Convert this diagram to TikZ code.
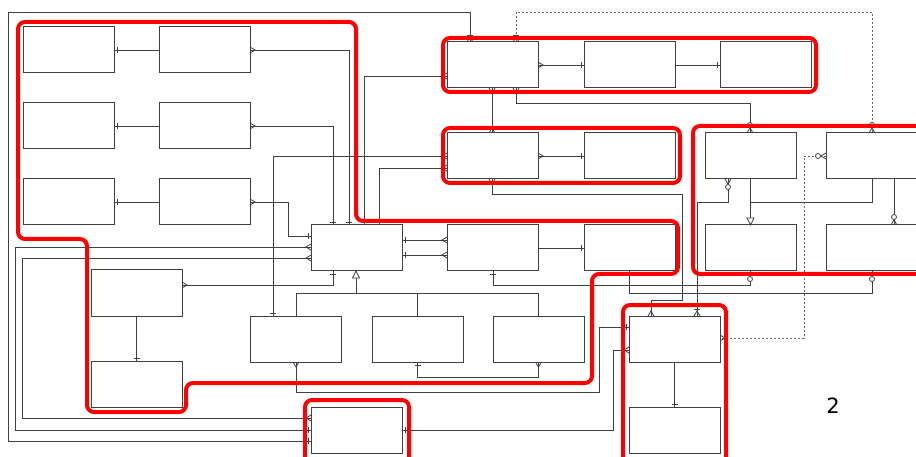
\documentclass[tikz,border=0pt]{standalone}
\usepackage{fontspec}
\setsansfont{DejaVu Sans}
\usetikzlibrary{calc}
\begin{document}
\begin{tikzpicture}[x=1pt,y=-1pt,
  box/.style={draw=black!75,line width=1pt,rectangle,anchor=north west,minimum width=91pt,minimum height=46pt,inner sep=0pt,outer sep=0pt},
  cn/.style={draw=black!75,line width=0.9pt},
  dsh/.style={draw=black!60,line width=0.9pt,dash pattern=on 2pt off 2pt},
  mk/.style={draw=black!75,line width=0.8pt},
  grp/.style={draw=red,line width=4pt,rounded corners=7pt},
  pics/one/.style={code={\draw[mk] (3,-3) -- (3,3);}},
  pics/many/.style={code={\draw[mk] (0,-3) -- (5,0) -- (0,3);}},
  pics/onemany/.style={code={\draw[mk] (0,-3) -- (5,0) -- (0,3); \draw[mk] (7,-3) -- (7,3);}},
  pics/zeromany/.style={code={\draw[mk] (0,-3) -- (5,0) -- (0,3); \draw[mk,fill=white] (8,0) circle (2.5);}},
  pics/zeroone/.style={code={\draw[mk] (2.5,-3) -- (2.5,3); \draw[mk,fill=white] (8,0) circle (2.5);}},
  pics/tri/.style={code={\draw[mk,fill=white] (0,0) -- (7,-3.5) -- (7,3.5) -- cycle;}}
]
\useasboundingbox (0,0) rectangle (916,457);
\fill[white] (0,0) rectangle (916,457);
\clip (0,0) rectangle (916,457);

% boxes
\node[box] (A1) at (23,27) {};
\node[box] (A2) at (23,103) {};
\node[box] (A3) at (23,179) {};
\node[box] (B1) at (159,27) {};
\node[box] (B2) at (159,103) {};
\node[box] (B3) at (159,179) {};
\node[box] (C) at (91,270) {};
\node[box] (D) at (91,361) {};
\node[box] (E) at (311,225) {};
\node[box] (F) at (447,225) {};
\node[box] (G) at (584,225) {};
\node[box] (H1) at (250,316) {};
\node[box] (H2) at (372,316) {};
\node[box] (H3) at (493,316) {};
\node[box] (I) at (311,407) {};
\node[box] (T1) at (447,42) {};
\node[box] (T2) at (584,42) {};
\node[box] (T3) at (720,42) {};
\node[box] (S1) at (447,133) {};
\node[box] (S2) at (584,133) {};
\node[box] (R1) at (705,133) {};
\node[box] (R2) at (826,133) {};
\node[box] (R3) at (705,225) {};
\node[box] (R4) at (826,225) {};
\node[box] (Q1) at (629,316) {};
\node[box] (Q2) at (629,407) {};

% connectors
\draw[cn] (A1.east) -- (B1.west);
\draw[cn] (A2.east) -- (B2.west);
\draw[cn] (A3.east) -- (B3.west);
\draw[cn] (B1.east) -| ($(E.north west)+(38,0)$);
\draw[cn] (B2.east) -| ($(E.north west)+(22,0)$);
\draw[cn] (B3.east) -- (288,202) |- ($(E.north west)+(0,11)$);
\draw[cn] ($(T1.north west)+(23,0)$) -- (470,12) -- (8,12) |- ($(I.north west)+(0,34)$);
\draw[cn] ($(E.north west)+(0,22)$) -- (15,247) |- ($(I.north west)+(0,23)$);
\draw[cn] ($(E.north west)+(0,33)$) -- (22,258) |- ($(I.north west)+(0,11)$);
\draw[cn] ($(C.north west)+(91,15)$) -| ($(E.south west)+(22,0)$);
\draw[cn] (C.south) -- (D.north);
\draw[cn] ($(S1.north west)+(0,23)$) -| ($(H1.north west)+(23,0)$);
\draw[cn] ($(E.north west)+(53,0)$) |- ($(T1.north west)+(0,34)$);
\draw[cn] ($(E.north west)+(68,0)$) |- ($(S1.north west)+(0,35)$);
\draw[cn] ($(T1.north west)+(45,46)$) -- ($(S1.north west)+(45,0)$);
\draw[cn] ($(T1.north west)+(69,46)$) -- (516,103) -| ($(R1.north west)+(45,0)$);
\draw[cn] (T1.east) -- (T2.west);
\draw[cn] (T2.east) -- (T3.west);
\draw[dsh] ($(T1.north west)+(69,0)$) -- (516,12) -| ($(R2.north west)+(46,0)$);
\draw[cn] (S1.east) -- (S2.west);
\draw[cn] ($(S1.north west)+(45,46)$) -- (492,194) -- (682,194) -- (682,300) -| ($(Q1.north west)+(22,0)$);
\draw[cn] ($(R1.north west)+(23,46)$) -- (728,202) -| ($(Q1.north west)+(68,0)$);
\draw[cn] (R1.south) -- (R3.north);
\draw[cn] ($(R2.north west)+(46,46)$) |- ($(R1.south)+(0,23)$);
\draw[cn] ($(R2.north west)+(68,46)$) -- ($(R4.north west)+(68,0)$);
\draw[dsh] ($(R2.north west)+(0,23)$) -- (804,156) |- ($(Q1.north west)+(91,22)$);
\draw[cn] ($(F.north west)+(46,46)$) -- (493,285) -| ($(R3.north west)+(45,46)$);
\draw[cn] ($(G.north west)+(45,46)$) -- (629,293) -| ($(R4.north west)+(46,46)$);
\draw[cn] ($(E.north west)+(91,15)$) -- ($(F.north west)+(0,15)$);
\draw[cn] ($(E.north west)+(91,30)$) -- ($(F.north west)+(0,30)$);
\draw[cn] (F.east) -- (G.west);
\draw[cn] ($(E.north west)+(45,46)$) -- (356,293);
\draw[cn] ($(H1.north west)+(46,0)$) -- ++(0,-23) -| (H3.north);
\draw[cn] (H2.north) -- ++(0,-23);
\draw[cn] ($(H1.north west)+(46,46)$) -- (296,392) -- (599,392) |- ($(Q1.north west)+(0,11)$);
\draw[cn] (H2.south) -- ++(0,15) -| (H3.south);
\draw[cn] (I.east) -- (613,430) |- ($(Q1.north west)+(0,34)$);
\draw[cn] (Q1.south) -- (Q2.north);

% end marks
\pic[rotate=0] at (A1.east) {one};
\pic[rotate=0] at (A2.east) {one};
\pic[rotate=0] at (A3.east) {one};
\pic[rotate=0] at (B1.east) {many};
\pic[rotate=0] at (B2.east) {many};
\pic[rotate=0] at (B3.east) {many};
\pic[rotate=90] at ($(E.north west)+(38,0)$) {one};
\pic[rotate=90] at ($(E.north west)+(22,0)$) {one};
\pic[rotate=180] at ($(E.north west)+(0,11)$) {one};
\pic[rotate=90] at ($(T1.north west)+(23,0)$) {onemany};
\pic[rotate=180] at ($(I.north west)+(0,34)$) {one};
\pic[rotate=180] at ($(E.north west)+(0,22)$) {many};
\pic[rotate=180] at ($(I.north west)+(0,23)$) {one};
\pic[rotate=180] at ($(E.north west)+(0,33)$) {many};
\pic[rotate=180] at ($(I.north west)+(0,11)$) {many};
\pic[rotate=0] at ($(C.north west)+(91,15)$) {many};
\pic[rotate=270] at ($(E.south west)+(22,0)$) {one};
\pic[rotate=90] at (D.north) {one};
\pic[rotate=180] at ($(S1.north west)+(0,23)$) {many};
\pic[rotate=90] at ($(H1.north west)+(23,0)$) {one};
\pic[rotate=180] at ($(T1.north west)+(0,34)$) {many};
\pic[rotate=180] at ($(S1.north west)+(0,35)$) {many};
\pic[rotate=270] at ($(T1.north west)+(45,46)$) {many};
\pic[rotate=90] at ($(S1.north west)+(45,0)$) {many};
\pic[rotate=270] at ($(T1.north west)+(69,46)$) {many};
\pic[rotate=90] at ($(R1.north west)+(45,0)$) {zeromany};
\pic[rotate=0] at (T1.east) {many};
\pic[rotate=180] at (T2.west) {one};
\pic[rotate=180] at (T3.west) {one};
\pic[rotate=90] at ($(T1.north west)+(69,0)$) {onemany};
\pic[rotate=90] at ($(R2.north west)+(46,0)$) {zeromany};
\pic[rotate=0] at (S1.east) {many};
\pic[rotate=180] at (S2.west) {one};
\pic[rotate=270] at ($(S1.north west)+(45,46)$) {many};
\pic[rotate=90] at ($(Q1.north west)+(22,0)$) {many};
\pic[rotate=270] at ($(R1.north west)+(23,46)$) {zeromany};
\pic[rotate=90] at ($(Q1.north west)+(68,0)$) {onemany};
\pic[rotate=90] at (R3.north) {tri};
\pic[rotate=90] at ($(R4.north west)+(68,0)$) {zeromany};
\pic[rotate=180] at ($(R2.north west)+(0,23)$) {zeromany};
\pic[rotate=0] at ($(Q1.north west)+(91,22)$) {many};
\pic[rotate=270] at ($(F.north west)+(46,46)$) {one};
\pic[rotate=270] at ($(R3.north west)+(45,46)$) {zeroone};
\pic[rotate=270] at ($(R4.north west)+(46,46)$) {zeroone};
\pic[rotate=0] at ($(E.north west)+(91,15)$) {one};
\pic[rotate=0] at ($(E.north west)+(91,30)$) {one};
\pic[rotate=180] at ($(F.north west)+(0,15)$) {many};
\pic[rotate=180] at ($(F.north west)+(0,30)$) {many};
\pic[rotate=180] at (G.west) {one};
\pic[rotate=270] at ($(E.north west)+(45,46)$) {tri};
\pic[rotate=270] at ($(H1.north west)+(46,46)$) {many};
\pic[rotate=180] at ($(Q1.north west)+(0,11)$) {one};
\pic[rotate=270] at (H2.south) {one};
\pic[rotate=270] at (H3.south) {many};
\pic[rotate=0] at (I.east) {one};
\pic[rotate=180] at ($(Q1.north west)+(0,34)$) {many};
\pic[rotate=90] at (Q2.north) {one};

% groups
\draw[grp] (18,22) -- (356,22) -- (356,221) -- (678,221) -- (678,274) -- (592,274) -- (592,383) -- (186,383) -- (186,412) -- (87,412) -- (87,239) -- (18,239) -- cycle;
\draw[grp] (443,38) rectangle (816,92);
\draw[grp] (443,128) rectangle (680,183);
\draw[grp] (693,126) rectangle (935,274);
\draw[grp] (623,305) rectangle (726,470);
\draw[grp] (305,400) rectangle (409,470);

\node[font=\sffamily\fontsize{21}{21}\selectfont] (lbl) at (833,406) {2};
\end{tikzpicture}
\end{document}
